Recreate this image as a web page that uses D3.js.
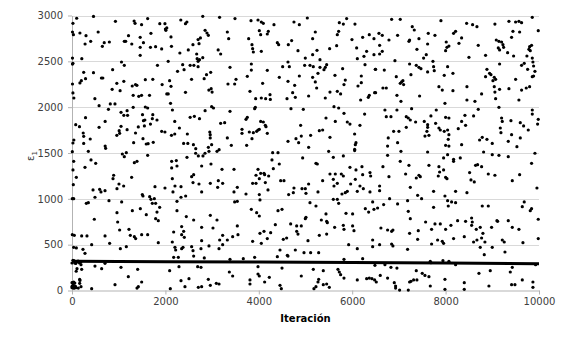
<!DOCTYPE html>
<html>
<head>
<meta charset="utf-8">
<script src="https://cdn.jsdelivr.net/npm/d3@7"></script>
<style>
  body { margin: 0; background: #fff; }
</style>
</head>
<body>
<div id="chart"></div>
<script>
// ticks
const xTicks = [0, 2000, 4000, 6000, 8000, 10000];
const yTicks = [0, 500, 1000, 1500, 2000, 2500, 3000];

// dense band of points (drawn as a thick line)
const lineIter = [0, 2000, 4000, 6000, 8000, 10000];
const lineEps = [318, 314, 310, 305, 300, 292];

// scattered points [iteración, e1]
const puntosA = [[100,2970],[460,2990],[20,2915],[930,2937],[1330,2940],[1350,2915],[1490,2900],[1620,2966],[1880,2911],[1990,2911],[2030,2864],[2330,2951],[2460,2929],[2430,2911],[2800,2991],[3160,2980],
[10,2820],[30,2791],[170,2809],[300,2780],[400,2718],[280,2689],[560,2820],[800,2711],[690,2704],[650,2664],[1120,2718],[1150,2718],[1210,2780],[1280,2689],[1460,2762],[1530,2704],[1690,2806],[1790,2660],[1680,2653],[1460,2653],[2000,2853],[2010,2838],[2120,2766],[2130,2664],[1920,2635],[1460,2566],[2310,2591],[2490,2624],[2590,2682],[2700,2737],[2720,2693],[2750,2755],[2850,2838],[2890,2809],[2920,2784],[2670,2580],[2680,2529],[2730,2518],[2700,2500],[2800,2540],[3130,2624],
[10,2536],[10,2470],[20,2478],[210,2529],[1060,2493],[1120,2456],[870,2409],[250,2380],[460,2376],[630,2318],[660,2318],[1830,2456],[2060,2500],[2260,2391],[2370,2464],[2530,2456],[2610,2456],[2700,2442],[2970,2380],[2880,2355],[2830,2311],[2560,2304],[1730,2304],[1570,2300],[2400,2409],
[10,2253],[170,2264],[200,2289],[290,2311],[960,2260],[1110,2282],[860,2195],[1030,2180],[1290,2231],[1360,2246],[1390,2238],[1930,2246],[2090,2289],[2120,2227],[1310,2129],[1430,2118],[1490,2129],[1660,2129],[2030,2144],[2060,2144],[2430,2162],[2930,2187],[2980,2202],[3000,2165],[20,2155],[40,2100],[490,2093],
[580,2016],[820,2035],[920,2035],[780,1976],[1310,1998],[1180,1962],[1570,2002],[1620,1991],[2110,2042],[2150,1969],[2850,1962],[2990,2005],[3030,1991],[290,1885],[1050,1944],[1110,1911],[1190,1911],[1510,1918],[1730,1918],[1720,1874],[2530,1889],[2620,1900],
[1530,1853],[1560,1860],[1820,1860],[2200,1845],[2730,1874],[80,1809],[160,1787],[580,1780],[710,1845],[1050,1791],[1010,1744],[1020,1715],[960,1693],[1180,1755],[1360,1718],[1420,1784],[1550,1795],[1680,1816],[1920,1736],[1990,1729],[2130,1693],[2200,1707],[2300,1773],[2470,1707],[2950,1729],[2960,1700],[2960,1664],[240,1718],[250,1682],[390,1653],[40,1642],[20,1609],[250,1605],[710,1576],[720,1551],[1320,1613],[1520,1656],[1590,1598],[1630,1602],[1740,1616],[2390,1605],[2480,1605],[2600,1591],[2650,1547],[2920,1562],[2990,1591],[3150,1536]];

const puntosB = [[3490,2966],[3833,2944],[3983,2951],[4054,2929],[4097,2915],[4325,2900],[4753,2929],[4868,2900],[5039,2973],[5724,2922],[5810,2907],[5881,2966],[6059,2907],
[3326,2820],[3355,2747],[3783,2747],[4011,2835],[4040,2791],[4204,2827],[4182,2798],[3854,2682],[3868,2638],[3883,2602],[4054,2609],[4397,2704],[4425,2682],[4703,2726],[4632,2682],[4839,2616],[5153,2747],[5210,2820],[5246,2620],[5153,2573],[4996,2536],[5310,2518],[5517,2638],[5667,2671],[5681,2791],[5710,2827],[5995,2737],[6095,2646],[6224,2762],[6366,2791],[6466,2747],[6110,2529],[6252,2555],[6309,2609],[6466,2573],
[3183,2580],[3383,2435],[3840,2471],[3840,2405],[3754,2336],[4182,2402],[4511,2442],[4625,2493],[4654,2442],[4439,2326],[4625,2282],[4868,2340],[4982,2456],[5096,2456],[5167,2442],[5153,2326],[5310,2435],[5424,2435],[5453,2464],[5396,2409],[5267,2369],[5631,2347],[5795,2420],[5852,2296],[6195,2340],[6274,2464],[6495,2413],
[3512,2304],[3483,2253],[3340,2253],[4082,2260],[3811,2173],[3933,2093],[4054,2100],[4147,2093],[4240,2136],[4247,2085],[4604,2093],[4725,2158],[4782,2107],[4768,2238],[5210,2275],[5239,2209],[5067,2122],[5424,2100],[5524,2165],[5681,2173],[5752,2144],[5824,2246],[6124,2231],[6195,2267],[6181,2078],[6345,2107],[6366,2129],[6480,2158],[3926,1998],[3911,1984],[4689,1984],[4953,1976],[5610,2005],[5710,1991],
[3383,1955],[3726,1867],[3754,1889],[3183,1824],[3269,1831],[4040,1845],[4097,1838],[4140,1802],[4154,1787],[3640,1758],[3640,1715],[3797,1729],[3883,1722],[3954,1736],[3983,1751],[4011,1758],[4182,1715],[3854,1656],[3326,1664],[3412,1584],[3740,1584],[4896,1802],[4625,1627],[4796,1656],[4853,1613],[4910,1685],[5110,1693],[5067,1562],[5296,1744],[5367,1751],[5439,1882],[5524,1671],[5638,1845],[5824,1933],[5895,1838],[5952,1816],[6166,1802],[6266,1925],[6052,1707],[6081,1613],[6067,1591],[6052,1540]];

const puntosC = [[6844,2958],[7029,2958],[7900,2944],[8450,2915],[8578,2900],[8671,2878],[9056,2907],[9356,2937],[9499,2929],[9570,2937],[9627,2922],[9856,2980],
[6573,2806],[6644,2784],[6972,2784],[6787,2733],[6587,2675],[6644,2609],[6587,2580],[7286,2878],[7329,2842],[7229,2733],[7215,2718],[7429,2747],[7629,2806],[7772,2784],[7615,2689],[7386,2631],[7586,2573],[7529,2536],[7729,2500],[8014,2711],[8071,2667],[8000,2616],[8029,2653],[8171,2806],[8214,2827],[8343,2755],[8286,2697],[8699,2675],[8500,2544],[9085,2733],[9142,2718],[9128,2646],[9156,2624],[9228,2682],[9199,2711],[9242,2653],[9328,2595],[9442,2827],[9413,2762],[9585,2820],[9456,2558],[9799,2660],[9841,2675],[9784,2631],[9813,2616],[9741,2558],[9984,2835],[9856,2536],
[6501,2413],[6687,2405],[6915,2507],[7229,2471],[7258,2355],[7372,2456],[7429,2435],[7472,2420],[7615,2384],[7743,2442],[7757,2398],[7971,2347],[8043,2442],[8157,2369],[8856,2566],[8885,2413],[8856,2333],[8942,2369],[8971,2355],[9042,2326],[9014,2289],[9071,2304],[9156,2471],[9627,2456],[9684,2478],[9756,2413],[9870,2493],[9884,2449],[9913,2391],[9884,2340],[9856,2333],[9499,2304],[6944,2333],[7058,2275],[7029,2260],[7101,2246],[7086,2289],
[6501,2158],[6658,2209],[6730,2209],[6958,2129],[7044,2064],[7443,2122],[7857,2224],[7929,2187],[8157,2180],[7986,2042],[8457,2224],[8457,2078],[8628,2064],[8771,2144],[9042,2224],[9056,2165],[9156,2195],[9356,2202],[9071,2093],[9627,2187],[9727,2209],[9799,2224],[9570,2078],
[6701,1969],[6730,1896],[6830,1896],[6958,1969],[7272,1984],[7158,1896],[7201,1882],[7244,1860],[7358,1838],[7158,1780],[7543,1845],[7686,1904],[7800,1969],[7615,1809],[7615,1780],[7786,1824],[7857,1773],[7886,1751],[8000,1889],[8071,1882],[8043,1751],[8271,1765],[8414,1911],[8343,1845],[8428,1802],[8599,1904],[8699,1976],[9142,1998],[9199,1882],[9213,1845],[9171,1773],[9185,1722],[9399,1853],[9599,1831],[9670,1795],[9770,1751],[9856,1969],[9856,1925],[9984,1867],[9970,1816],
[6887,1736],[7001,1736],[6772,1664],[6972,1613],[6758,1576],[7558,1685],[7600,1736],[7643,1693],[7971,1736],[8071,1700],[8057,1649],[8000,1584],[8071,1576],[8343,1591],[8728,1642],[8785,1671],[8885,1649],[8999,1605],[9342,1627],[9413,1700],[9527,1569],[9599,1664]];

const puntosD = [[7,1515],[350,1518],[1078,1489],[1120,1460],[1163,1504],[1620,1475],[2648,1497],[2705,1468],[2805,1468],[2848,1497],[2933,1518],[3105,1518],[2462,1453],
[36,1409],[21,1315],[93,1235],[278,1344],[407,1424],[507,1387],[1335,1395],[1392,1409],[2134,1409],[2234,1417],[2134,1337],[2248,1358],[2776,1358],[2976,1380],[892,1257],[878,1220],[1277,1235],[2148,1220],[2562,1242],[2605,1264],[2591,1177],[3133,1198],
[28,1155],[592,1104],[621,1075],[707,1089],[450,1097],[792,980],[963,1111],[1006,1162],[1106,1140],[1777,1133],[1991,1118],[2205,1140],[2334,1133],[2434,1031],[2162,1075],[2334,1017],[2248,973],[2719,1162],[2776,1075],[2962,1169],[3119,1126],
[7,1002],[36,1002],[307,951],[350,958],[492,1017],[1063,966],[1506,1046],[1520,1031],[1663,1024],[1691,995],[1763,1002],[1720,951],[1791,951],[1877,907],[1292,871],[1463,893],[1591,827],[1820,856],[1791,784],[1848,762],[963,849],[978,747],[478,777],[1020,660],[1220,667],[1249,602],[1335,587],[1363,566],[1492,609],[1620,609],[2248,871],[2448,806],[2605,769],[2962,820],[3105,769],[2348,697],[2391,646],[2348,609],[2405,580],[2177,638],[2776,689],[3019,682],
[7,609],[50,602],[207,595],[321,595],[707,595],[806,515],[2776,544],[3162,551],[2148,529],[1848,522],
[36,471],[93,464],[235,449],[278,406],[421,500],[1035,456],[1163,478],[2205,471],[2220,442],[2348,456],[2377,471],[2562,478],[2591,435],[2762,456],[2933,486],[3148,456],[2177,362],[2277,362],[2605,376],[2833,355],
[107,238],[193,282],[207,231],[492,267],[635,238],[707,296],[1049,253],[1406,231],[1206,151],[1492,93],[1392,27],[1420,42],[921,64],[421,20],[36,93],[21,56],[21,35],[135,27],[193,42],[164,122],[164,78],[2091,216],[2291,260],[2691,260],[2762,253],[2505,129],[2334,107],[2419,42],[2105,20],[2705,35],[2776,42],[2919,122],[2962,56],[3090,78],[3148,71]];

const puntosE = [[4297,1504],[4411,1504],[4282,1424],[4439,1380],[4311,1329],[4939,1446],[5224,1387],[5253,1380],[5496,1518],[5596,1453],[5810,1468],[6052,1526],[3212,1322],[3469,1322],
[3940,1257],[3983,1322],[4040,1278],[4111,1278],[4125,1264],[4211,1249],[4011,1220],[3226,1169],[3469,1075],[3540,1126],[3868,1169],[3940,1169],[3726,1053],[4011,1046],[4025,988],[4140,1177],[4197,1097],[4468,1198],[4539,1198],[4639,1046],[4753,1118],[4739,1067],[4925,1111],[4996,1111],[5010,1060],[5067,1162],[5267,1075],[5367,1198],[5524,1271],[5596,1213],[5638,1271],[5767,1271],[5810,1249],[5681,1169],[5610,1140],[5952,1344],[6081,1315],[6209,1351],[6224,1264],[6381,1286],[6395,1249],[5967,1162],[6067,1213],[6109,1082],[5852,1067],[5895,1082],[5781,1053],[6238,1111],[6381,1075],[6166,1140],
[3483,966],[3540,973],[3840,886],[3954,849],[4011,813],[4411,871],[4497,886],[5096,958],[5224,922],[5439,835],[5339,769],[5453,755],[5467,740],[5596,995],[5681,995],[5710,951],[5867,842],[6009,835],[6281,893],[6352,856],[6466,886],[6438,966],[4354,718],[4682,726],[4811,704],[4910,704],[5010,798],[4996,784],[4811,646],[4839,616],[4596,573],[3540,704],
[3226,602],[3326,551],[3440,587],[3554,609],[3868,536],[4025,624],[4111,646],[4254,631],[4182,566],[4054,515],[4525,558],[5053,544],[5296,602],[5453,616],[5624,689],[5810,711],[5824,667],[6009,704],[6038,653],[5924,500],[6438,551],[6438,478],[6109,456],
[3226,500],[4454,442],[4611,384],[4625,376],[4782,442],[4968,413],[5110,413],[5282,413],[3383,340],[3668,347],[3911,362],[4397,369],[5824,340],[6224,347],
[3369,202],[3440,158],[3983,260],[3983,180],[4011,158],[3811,115],[3811,71],[4225,144],[4125,93],[4497,245],[4910,158],[4454,56],[4482,20],[5167,231],[5282,122],[5267,93],[5381,216],[5453,71],[5381,64],[5224,42],[5181,20],[5510,35],[5695,231],[5724,202],[5752,173],[5824,136],[6109,115],[6309,129],[6366,136],[6423,129],[6480,115]];

const puntosF = [[6758,1475],[7044,1518],[7615,1511],[7957,1446],[8043,1482],[8171,1431],[8171,1409],[8314,1446],[8814,1511],[8999,1482],[9142,1475],[9342,1460],[9913,1497],[6658,1351],[7029,1409],[7215,1366],[7643,1366],[7857,1351],[7872,1293],[7957,1315],[8642,1366],[8685,1373],[8771,1351],[8914,1271],[9056,1257],[9841,1387],
[6787,1242],[7144,1271],[7372,1227],[7429,1257],[7458,1242],[7843,1249],[8000,1235],[8029,1220],[8514,1286],[8543,1206],[8614,1184],[9428,1198],[9585,1264],[6587,1140],[6587,1089],[7244,1126],[7743,1082],[7401,1038],[7486,1002],[7986,1031],[8214,1082],[8457,1067],[9956,1118],[6801,1002],[6673,937],[6544,900],[6972,944],[7186,980],[8043,980],[8057,922],[8128,966],[8214,958],
[7201,864],[7743,907],[8785,922],[8914,922],[9642,915],[9684,966],[9813,871],[9841,893],[7244,784],[7572,747],[7772,726],[7886,726],[7700,667],[8000,667],[8114,711],[8257,762],[8428,755],[8557,791],[8571,747],[8557,711],[8657,667],[8742,689],[8799,624],[9099,762],[9114,755],[9342,762],[8985,689],[9428,689],[9570,667],[9984,777],[6615,682],[6758,660],[6844,646],[6872,660],[7229,624],[7415,653],
[7401,558],[7829,551],[7929,536],[7957,515],[7700,507],[8171,566],[8400,587],[8599,529],[8671,551],[8771,573],[8842,529],[8742,471],[8999,471],[9214,551],[9256,529],[9656,522],[9984,566],[6587,500],[6844,507],[6872,486],[7186,449],[8828,391],[9271,420],[7672,318],[7943,325],[8071,318],
[6487,275],[6701,282],[6830,253],[6958,245],[7686,304],[8214,282],[6601,165],[6758,136],[6516,93],[6901,85],[6929,49],[6929,27],[7015,5],[7229,93],[7315,115],[7386,115],[7372,216],[7500,187],[7558,165],[7643,151],[7672,49],[7986,122],[7986,13],[8400,85],[8400,13],[8714,187],[8956,216],[8928,49],[9385,202],[9428,253],[9413,64],[9485,64],[9642,115],[9870,93],[9870,35],[9927,282],[7201,5],[7258,100]];

// clusters right at the start of the run
const puntosInicio = [[0,85],[15,85],[30,80],[45,80],[60,82],[0,45],[15,45],[30,40],[45,40],[60,40],[75,45],[0,30],[20,30],[40,25],[60,30],[85,30],
[0,300],[20,330],[40,325],[60,300],[80,295],[100,310],[130,322],[160,300],[190,315],[90,210],[170,110]];

const width = 567, height = 339;

const x = d3.scaleLinear().domain([0, 10000]).range([72, 539]);
const y = d3.scaleLinear().domain([0, 3000]).range([290.5, 15.5]);

const svg = d3.select("#chart").append("svg")
    .attr("width", width)
    .attr("height", height)
    .style("background-color", "#fff")
    .style("font-family", "'DejaVu Sans', Verdana, sans-serif");

// Grid lines
svg.append("g")
    .selectAll("line")
    .data(yTicks.filter(d => d > 0))
    .join("line")
    .attr("x1", x(0))
    .attr("x2", x(10000))
    .attr("y1", d => Math.round(y(d)) + 0.5)
    .attr("y2", d => Math.round(y(d)) + 0.5)
    .attr("stroke", "#d9d9d9")
    .attr("stroke-width", 1);

// Axis
const yAxis = svg.append("g")
    .attr("transform", `translate(${x(0)},0)`)
    .call(d3.axisLeft(y).tickValues(yTicks).tickFormat(d3.format("d"))
        .tickSize(4).tickSizeOuter(0).tickPadding(5));

const xAxis = svg.append("g")
    .attr("transform", `translate(0,${y(0)})`)
    .call(d3.axisBottom(x).tickValues(xTicks).tickFormat(d3.format("d"))
        .tickSize(4).tickSizeOuter(0).tickPadding(3));

[yAxis, xAxis].forEach(g => {
    g.select(".domain").attr("stroke", "#b3b3b3");
    g.selectAll(".tick line").attr("stroke", "#b3b3b3");
    g.selectAll("text")
        .attr("font-size", "10px")
        .attr("font-family", "'DejaVu Sans', Verdana, sans-serif")
        .style("fill", "#404040");
});

// Dense band
const line = d3.line()
    .x((d, i) => x(lineIter[i]))
    .y(d => y(d));

svg.append("path")
    .datum(lineEps)
    .attr("fill", "none")
    .attr("stroke", "#000")
    .attr("stroke-width", 3)
    .attr("d", line);

// Points
const puntos = [].concat(puntosA, puntosB, puntosC, puntosD, puntosE, puntosF, puntosInicio);

svg.append("g")
    .selectAll("circle")
    .data(puntos)
    .join("circle")
    .attr("cx", d => x(d[0]))
    .attr("cy", d => y(d[1]))
    .attr("r", 1.6)
    .attr("fill", "#000");

// Axis labels
svg.append("text")
    .attr("x", (x(0) + x(10000)) / 2)
    .attr("y", 322)
    .attr("text-anchor", "middle")
    .attr("font-size", "10px")
    .attr("font-weight", "bold")
    .style("fill", "#000")
    .text("Iteración");

const yLabel = svg.append("text")
    .attr("transform", "translate(34,156) rotate(-90)")
    .attr("text-anchor", "middle")
    .attr("font-size", "10px")
    .style("fill", "#404040");
yLabel.append("tspan").text("ε");
yLabel.append("tspan").attr("dy", 3).attr("font-size", "7px").text("1");
</script>
</body>
</html>
